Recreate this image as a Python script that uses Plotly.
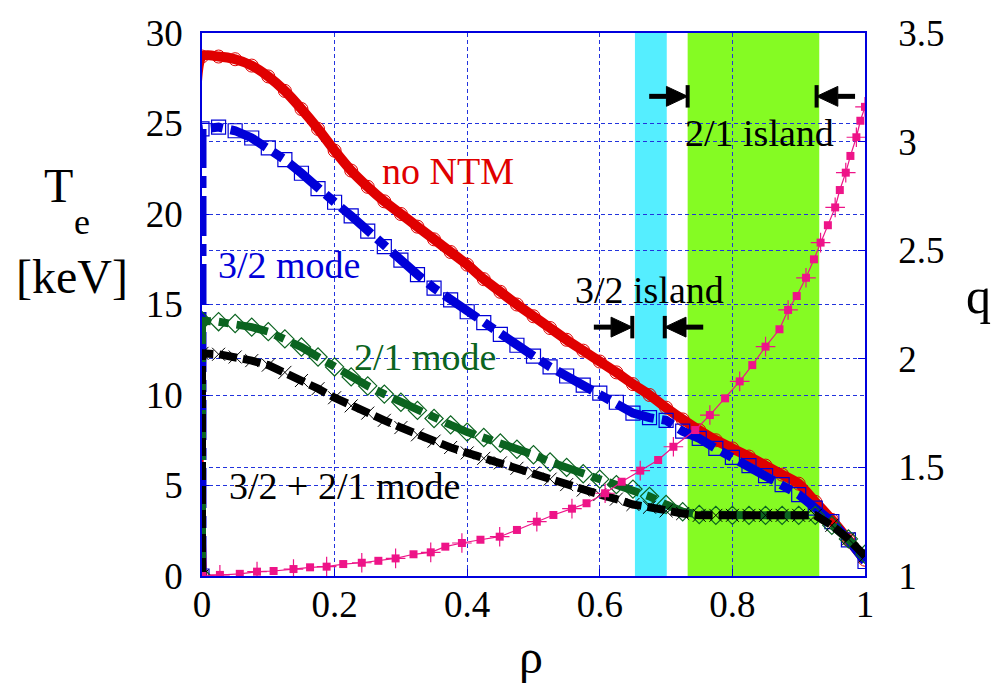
import plotly.graph_objects as go

# Electron temperature profiles [keV] vs normalized radius rho
rho = [0.0, 0.0, 0.025, 0.05, 0.075, 0.1, 0.125, 0.15, 0.175, 0.2, 0.225, 0.25,
       0.275, 0.3, 0.325, 0.35, 0.375, 0.4, 0.425, 0.45, 0.475, 0.5, 0.525,
       0.55, 0.575, 0.6, 0.625, 0.65, 0.675, 0.7, 0.725, 0.75, 0.775, 0.8,
       0.825, 0.85, 0.875, 0.9, 0.925, 0.95, 0.975, 1.0]

te_no_ntm = [0.0, 28.7, 28.7, 28.55, 28.2, 27.6, 26.8, 25.8, 24.7, 23.5, 22.4, 21.5,
             20.7, 20.0, 19.3, 18.6, 17.9, 17.2, 16.4, 15.7, 15.0, 14.35, 13.7,
             13.05, 12.45, 11.85, 11.25, 10.6, 10.0, 9.3, 8.65, 8.05, 7.5, 7.05,
             6.6, 6.1, 5.6, 5.1, 4.1, 3.1, 2.0, 0.9]

te_32 = [0.0, 24.7, 24.8, 24.6, 24.2, 23.65, 23.0, 22.25, 21.4, 20.65, 19.9, 19.05,
         18.2, 17.45, 16.65, 15.9, 15.25, 14.6, 14.0, 13.35, 12.75, 12.15, 11.55,
         11.05, 10.55, 10.1, 9.6, 9.0, 8.75, 8.6, 8.0, 7.6, 7.05, 6.55,
         6.1, 5.55, 5.05, 4.5, 3.75, 3.0, 2.0, 0.8]

te_21 = [0.0, 14.1, 14.05, 13.95, 13.75, 13.5, 13.1, 12.65, 12.1, 11.55, 11.0, 10.5,
         10.05, 9.6, 9.15, 8.7, 8.35, 7.95, 7.65, 7.35, 7.0, 6.7, 6.3,
         6.0, 5.65, 5.35, 5.05, 4.8, 4.4, 3.95, 3.55, 3.4, 3.35, 3.35,
         3.35, 3.35, 3.35, 3.35, 3.35, 2.8, 2.05, 1.2]

te_32_21 = [0.0, 12.3, 12.25, 12.1, 11.9, 11.65, 11.25, 10.8, 10.35, 9.85, 9.4, 9.0,
            8.6, 8.2, 7.8, 7.45, 7.1, 6.8, 6.5, 6.25, 5.95, 5.7, 5.35,
            5.05, 4.75, 4.5, 4.25, 3.95, 3.8, 3.6, 3.45, 3.35, 3.35, 3.35,
            3.35, 3.35, 3.35, 3.35, 3.35, 2.8, 2.05, 1.1]

# Safety factor profile
q_rho = [0.0, 0.027, 0.057, 0.083, 0.108, 0.138, 0.163, 0.188, 0.213, 0.241,
         0.266, 0.292, 0.319, 0.345, 0.367, 0.392, 0.42, 0.449, 0.475, 0.505,
         0.53, 0.558, 0.58, 0.608, 0.633, 0.661, 0.688, 0.711, 0.744, 0.766,
         0.789, 0.811, 0.83, 0.85, 0.871, 0.884, 0.897, 0.911, 0.923, 0.933,
         0.944, 0.955, 0.962, 0.971, 0.978, 0.987, 0.993, 1.0]
q_val = [1.0, 1.005, 1.01, 1.02, 1.023, 1.032, 1.04, 1.043, 1.055, 1.061,
         1.07, 1.081, 1.1, 1.109, 1.135, 1.152, 1.167, 1.181, 1.212, 1.25,
         1.281, 1.31, 1.335, 1.381, 1.434, 1.485, 1.534, 1.595, 1.672, 1.741,
         1.818, 1.896, 1.971, 2.056, 2.136, 2.225, 2.289, 2.373, 2.458, 2.535,
         2.615, 2.697, 2.777, 2.857, 2.934, 3.02, 3.096, 3.16]

# Island extents in rho
island_32 = [0.653, 0.701]
island_21 = [0.7325, 0.931]

# Axis ticks
x_ticks = [0, 0.2, 0.4, 0.6, 0.8, 1.0]
x_ticklabels = ["0", "0.2", "0.4", "0.6", "0.8", "1"]
y_ticks = [0, 5, 10, 15, 20, 25, 30]
y2_ticks = [1, 1.5, 2, 2.5, 3, 3.5]
y2_ticklabels = ["1", "1.5", "2", "2.5", "3", "3.5"]

FONT = "Liberation Serif"
RED = "#e00000"
BLUE = "#0000d8"
GREEN = "#0b6420"
BLACK = "#000000"
PINK = "#ee1488"
AXIS = "#0000dd"

fig = go.Figure()

fig.add_trace(go.Scatter(
    x=rho, y=te_no_ntm, mode="lines+markers", name="no NTM",
    line=dict(color=RED, width=10, shape="spline", smoothing=0.6),
    marker=dict(symbol="circle-open", size=13, color=RED, line=dict(width=1, color=RED)),
))
fig.add_trace(go.Scatter(
    x=rho, y=te_32, mode="lines+markers", name="3/2 mode",
    line=dict(color=BLUE, width=9, dash="40px,8px,12px,8px"),
    marker=dict(symbol="square-open", size=14, color=BLUE, line=dict(width=1.2, color=BLUE)),
))
fig.add_trace(go.Scatter(
    x=rho, y=te_21, mode="lines+markers", name="2/1 mode",
    line=dict(color=GREEN, width=8, dash="32px,8px,10px,8px"),
    marker=dict(symbol="diamond-open", size=14, color=GREEN, line=dict(width=1.2, color=GREEN)),
))
fig.add_trace(go.Scatter(
    x=rho, y=te_32_21, mode="lines+markers", name="3/2 + 2/1 mode",
    line=dict(color=BLACK, width=8, dash="18px,6px"),
    marker=dict(symbol="x-thin", size=13, color=BLACK, line=dict(width=1, color=BLACK)),
))
fig.add_trace(go.Scatter(
    x=q_rho, y=q_val, mode="lines+markers", name="q", yaxis="y2",
    line=dict(color=PINK, width=1.2),
    marker=dict(symbol="square", size=8, color=PINK),
))
fig.add_trace(go.Scatter(
    x=q_rho[1::2], y=q_val[1::2], mode="markers", name="q points", yaxis="y2",
    marker=dict(symbol="cross-thin", size=14, color=PINK, line=dict(width=1.2, color=PINK)),
))

shapes = []
# Island bands
for (lo, hi), col in ((island_32, "#55eeff"), (island_21, "#85fb23")):
    shapes.append(dict(type="rect", xref="x", yref="paper", x0=lo, x1=hi, y0=0, y1=1,
                       fillcolor=col, line=dict(width=0), layer="below"))


def arrow(bar_x, y, direction):
    """Arrow pointing toward bar_x (direction +1: from the left, -1: from the right)."""
    tri_w = 0.032
    shaft = 0.026
    tri_h = 0.55
    bar_h = 0.62
    base = bar_x - direction * tri_w
    out = []
    out.append(dict(type="line", xref="x", yref="y", x0=base - direction * shaft, x1=base,
                    y0=y, y1=y, line=dict(color="black", width=5)))
    out.append(dict(type="path", xref="x", yref="y",
                    path=f"M {base},{y + tri_h} L {base},{y - tri_h} L {bar_x},{y} Z",
                    fillcolor="black", line=dict(color="black", width=1)))
    out.append(dict(type="line", xref="x", yref="y", x0=bar_x, x1=bar_x,
                    y0=y - bar_h, y1=y + bar_h, line=dict(color="black", width=4)))
    return out


shapes += arrow(island_32[0] - 0.004, 13.75, +1)
shapes += arrow(island_32[1] - 0.003, 13.75, -1)
shapes += arrow(island_21[0], 26.5, +1)
shapes += arrow(island_21[1] - 0.004, 26.5, -1)

annotations = []


def label(text, x, y, color, size=38, xanchor="left", xref="x", yref="y"):
    annotations.append(dict(text=text, x=x, y=y, xref=xref, yref=yref, showarrow=False,
                            xanchor=xanchor, yanchor="middle",
                            font=dict(family=FONT, size=size, color=color)))


label("no NTM", 0.269, 22.4, RED)
label("3/2 mode", 0.021, 17.2, BLUE)
label("2/1 mode", 0.226, 12.1, GREEN)
label("3/2 + 2/1 mode", 0.037, 4.97, BLACK)
label("3/2 island", 0.56, 15.8, BLACK)
label("2/1 island", 0.7255, 24.5, BLACK)

# Axis titles placed in paper coordinates
W, H = 994, 689
L, R, T, B = 202, 129, 33, 113
pw, ph = W - L - R, H - T - B


def px(xp):
    return (xp - L) / pw


def py(yp):
    return (H - B - yp) / ph


label("T", px(58), py(186), BLACK, size=48, xanchor="center", xref="paper", yref="paper")
label("e", px(82), py(222), BLACK, size=36, xanchor="center", xref="paper", yref="paper")
label("[keV]", px(72), py(276), BLACK, size=48, xanchor="center", xref="paper", yref="paper")
label("q", px(978), py(296), BLACK, size=50, xanchor="center", xref="paper", yref="paper")
label("ρ", px(531), py(656), BLACK, size=48, xanchor="center", xref="paper", yref="paper")

grid_kw = dict(showgrid=True, gridcolor="#2233dd", gridwidth=1, griddash="4px,3px")
axis_font = dict(family=FONT, size=37, color="black")

fig.update_layout(
    width=W, height=H,
    margin=dict(l=L, r=R, t=T, b=B, pad=0),
    paper_bgcolor="white", plot_bgcolor="white",
    showlegend=False,
    font=dict(family=FONT),
    shapes=shapes,
    annotations=annotations,
    xaxis=dict(range=[0, 1], tickvals=x_ticks, ticktext=x_ticklabels,
               ticks="inside", ticklen=7, tickcolor=AXIS, tickfont=axis_font,
               showline=True, linecolor=AXIS, linewidth=1.5, mirror=True,
               zeroline=False, automargin=False, ticklabelstandoff=-5, **grid_kw),
    yaxis=dict(range=[0, 30], tickvals=y_ticks, ticks="inside", ticklen=7,
               tickcolor=AXIS, tickfont=axis_font,
               showline=True, linecolor=AXIS, linewidth=1.5, mirror=True,
               zeroline=False, automargin=False, ticklabelstandoff=10, **grid_kw),
    yaxis2=dict(range=[1, 3.5], tickvals=y2_ticks, ticktext=y2_ticklabels,
                overlaying="y", side="right", ticks="inside", ticklen=7,
                tickcolor=AXIS, tickfont=axis_font, showline=True, linecolor=AXIS,
                linewidth=1.5, zeroline=False, automargin=False,
                ticklabelstandoff=24, **grid_kw),
)

fig.write_html("out.html")
